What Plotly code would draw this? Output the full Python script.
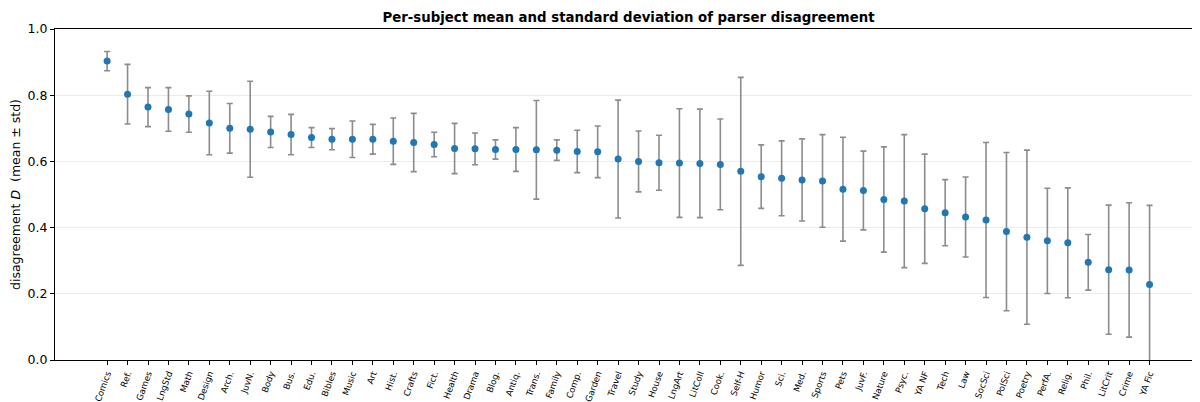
import plotly.graph_objects as go

subjects = ["Comics", "Ref.", "Games", "LngStd", "Math", "Design", "Arch.", "JuvN.", "Body", "Bus.",
            "Edu.", "Bibles", "Music", "Art", "Hist.", "Crafts", "Fict.", "Health", "Drama", "Blog.",
            "Antiq.", "Trans.", "Family", "Comp.", "Garden", "Travel", "Study", "House", "LngArt", "LitColl",
            "Cook.", "Self-H", "Humor", "Sci.", "Med.", "Sports", "Pets", "JuvF.", "Nature", "Psyc.",
            "YA NF", "Tech", "Law", "SocSci", "PolSci", "Poetry", "PerfA.", "Relig.", "Phil.", "LitCrit",
            "Crime", "YA Fic"]

means = [0.903, 0.803, 0.764, 0.757, 0.743, 0.716, 0.700, 0.697, 0.689, 0.681,
         0.672, 0.667, 0.667, 0.667, 0.661, 0.657, 0.651, 0.639, 0.638, 0.636,
         0.636, 0.635, 0.634, 0.630, 0.629, 0.607, 0.600, 0.596, 0.595, 0.594,
         0.591, 0.570, 0.554, 0.549, 0.544, 0.541, 0.516, 0.512, 0.485, 0.480,
         0.457, 0.445, 0.432, 0.423, 0.388, 0.371, 0.360, 0.354, 0.295, 0.273,
         0.272, 0.228]

stds = [0.029, 0.090, 0.059, 0.066, 0.055, 0.096, 0.075, 0.145, 0.047, 0.061,
        0.030, 0.032, 0.055, 0.045, 0.070, 0.088, 0.037, 0.076, 0.048, 0.029,
        0.066, 0.149, 0.031, 0.064, 0.078, 0.178, 0.092, 0.083, 0.164, 0.164,
        0.137, 0.284, 0.096, 0.113, 0.124, 0.140, 0.157, 0.119, 0.159, 0.201,
        0.165, 0.100, 0.121, 0.234, 0.239, 0.263, 0.159, 0.166, 0.084, 0.195,
        0.203, 0.239]

y_ticks = [0.0, 0.2, 0.4, 0.6, 0.8, 1.0]

x_idx = list(range(len(subjects)))

fig = go.Figure()
fig.add_trace(go.Scatter(
    x=x_idx, y=means, mode="markers",
    marker=dict(color="#1f77b4", size=7),
    error_y=dict(type="data", array=stds, visible=True,
                 color="rgba(128,128,128,0.9)", thickness=1.6, width=3),
    cliponaxis=True,
    showlegend=False,
))

# page body has an 8px margin; figure is sized to fill the rest of the window
W, H = 1192, 394
font_family = "DejaVu Sans"
fig.update_layout(
    width=W, height=H,
    margin=dict(l=47, r=0, t=21, b=42, autoexpand=False),
    paper_bgcolor="white", plot_bgcolor="white",
    font=dict(family=font_family, color="black"),
    title=dict(text="<b>Per-subject mean and standard deviation of parser disagreement</b>",
               x=620.5 / W, xanchor="center", y=1 - 9 / H, yanchor="middle",
               font=dict(size=13.3, family=font_family)),
)
fig.update_xaxes(
    range=[-2.55, -2.55 + 1145 / 20.44],
    tickmode="array", tickvals=x_idx, ticktext=subjects,
    tickangle=-70, tickfont=dict(size=8.7, family=font_family),
    ticks="outside", ticklen=4, tickcolor="black", tickwidth=1,
    showline=True, linecolor="black", linewidth=1.2, mirror=True,
    showgrid=False, zeroline=False, automargin=False,
)
fig.update_yaxes(
    range=[0, 1.0],
    tickmode="array", tickvals=y_ticks, ticktext=[f"{v:.1f}" for v in y_ticks],
    tickfont=dict(size=12.5, family=font_family),
    ticks="outside", ticklen=4, tickcolor="black", tickwidth=1,
    showline=True, linecolor="black", linewidth=1.2, mirror=False,
    showgrid=True, gridcolor="#ebebeb", gridwidth=1, zeroline=False,
    automargin=False,
    title=dict(text="disagreement <i>D</i>  (mean ± std)", font=dict(size=12.5, family=font_family)),
)

fig.write_html("out.html")
